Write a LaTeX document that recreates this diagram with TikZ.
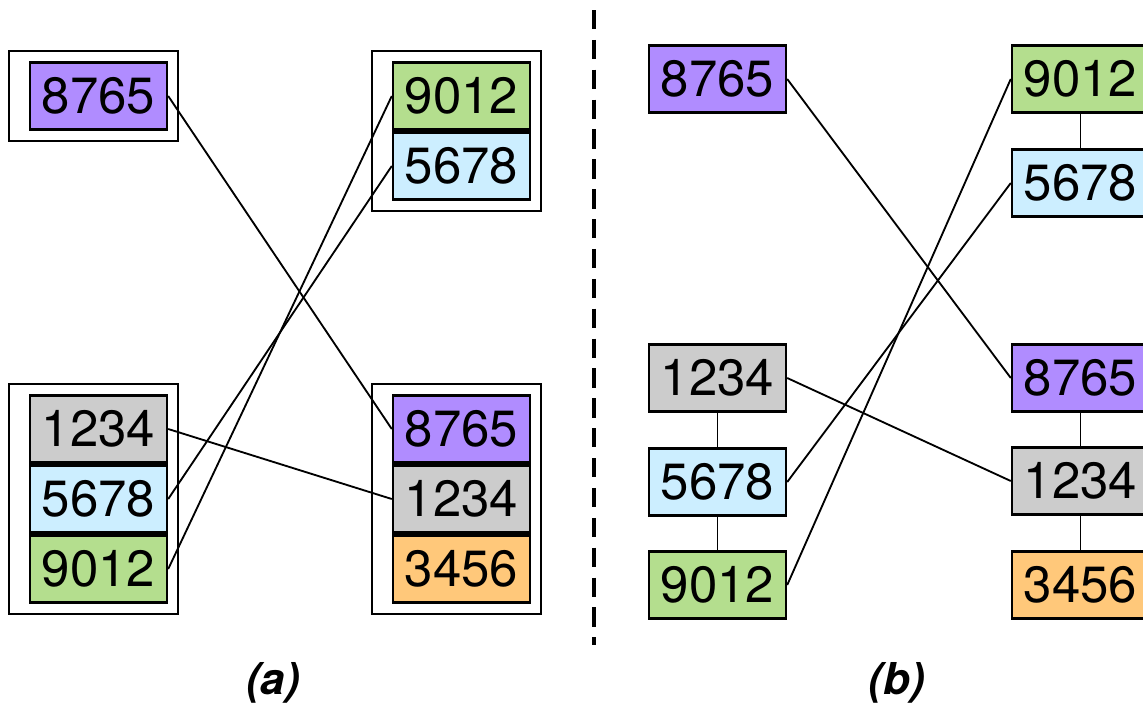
\documentclass[tikz,border=0pt]{standalone}
\usepackage{fontspec}
\setmainfont{TeX Gyre Heros}
\usepackage{tikz}
\usetikzlibrary{positioning, fit}
\definecolor{keypurple}{RGB}{176,140,255}
\definecolor{keygreen}{RGB}{180,222,142}
\definecolor{keyblue}{RGB}{204,238,255}
\definecolor{keygray}{RGB}{204,204,204}
\definecolor{keyorange}{RGB}{255,200,122}
\tikzset{
  key/.style={draw=black, line width=1.4pt, minimum width=2.74cm, minimum height=1.34cm,
              inner sep=0pt, font=\fontsize{29}{31}\selectfont},
  frame/.style={draw=black, line width=1.3pt, inner xsep=0.3cm, inner ysep=0.2cm, xshift=-0.1cm},
  link/.style={draw=black, line width=1.05pt},
  caption/.style={font=\fontsize{25}{28}\selectfont\bfseries\itshape}
}
\begin{document}
\begin{tikzpicture}[x=0.02cm, y=-0.02cm]
        \useasboundingbox (0,0) rectangle (1143,704);
        % (a) grouped
        \node[key, fill=keypurple] (a8765) at (98.5, 96)  {8765};
        \node[key, fill=keygreen]  (a9012t) at (461.5, 96) {9012};
        \node[key, fill=keyblue]   (a5678t) at (461.5, 166) {5678};
        \node[key, fill=keygray]   (a1234l) at (98.5, 429) {1234};
        \node[key, fill=keyblue]   (a5678l) at (98.5, 499) {5678};
        \node[key, fill=keygreen]  (a9012l) at (98.5, 569) {9012};
        \node[key, fill=keypurple] (a8765r) at (461.5, 429) {8765};
        \node[key, fill=keygray]   (a1234r) at (461.5, 499) {1234};
        \node[key, fill=keyorange] (a3456r) at (461.5, 569) {3456};
        \node[frame, fit=(a8765)] (f1) {};
        \node[frame, fit=(a9012t) (a5678t)] (f2) {};
        \node[frame, fit=(a1234l) (a9012l)] (f3) {};
        \node[frame, fit=(a8765r) (a3456r)] (f4) {};
        \draw[link] (a8765.east) -- (a8765r.west);
        \draw[link] (a1234l.east) -- (a1234r.west);
        \draw[link] (a5678l.east) -- (a5678t.west);
        \draw[link] (a9012l.east) -- (a9012t.west);
        \node[caption] (capa) at (273, 683) {(a)};

        % divider
        \coordinate (divtop) at (594, 10);
        \coordinate (divbot) at (594, 645);
        \draw[line width=2.3pt, dash pattern=on 11pt off 6pt] (divtop) -- (divbot);

        % (b) chained
        \node[key, fill=keypurple] (b8765) at (717.5, 79)  {8765};
        \node[key, fill=keygray]   (b1234l) at (717.5, 378) {1234};
        \node[key, fill=keyblue]   (b5678l) at (717.5, 482) {5678};
        \node[key, fill=keygreen]  (b9012l) at (717.5, 585) {9012};
        \node[key, fill=keygreen]  (b9012r) at (1080.5, 79) {9012};
        \node[key, fill=keyblue]   (b5678r) at (1080.5, 183) {5678};
        \node[key, fill=keypurple] (b8765r) at (1080.5, 378) {8765};
        \node[key, fill=keygray]   (b1234r) at (1080.5, 481) {1234};
        \node[key, fill=keyorange] (b3456r) at (1080.5, 585) {3456};
        \draw[link] (b1234l) -- (b5678l);
        \draw[link] (b5678l) -- (b9012l);
        \draw[link] (b9012r) -- (b5678r);
        \draw[link] (b8765r) -- (b1234r);
        \draw[link] (b1234r) -- (b3456r);
        \draw[link] (b8765.east) -- (b8765r.west);
        \draw[link] (b1234l.east) -- (b1234r.west);
        \draw[link] (b5678l.east) -- (b5678r.west);
        \draw[link] (b9012l.east) -- (b9012r.west);
        \node[caption] (capb) at (897, 683) {(b)};
      \end{tikzpicture}
\end{document}
